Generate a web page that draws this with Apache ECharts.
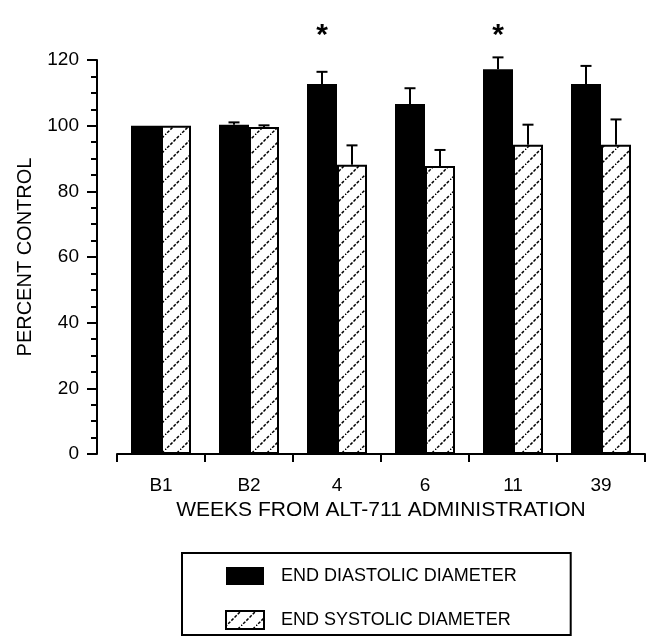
<!DOCTYPE html>
<html>
<head>
<meta charset="utf-8">
<script src="https://cdn.jsdelivr.net/npm/echarts@6/dist/echarts.min.js"></script>
<style>
html,body{margin:0;padding:0;background:#fff;}
#chart{width:647px;height:637px;}
</style>
</head>
<body>
<div id="chart"></div>
<script>
// ---- data ----
var categories = ['B1', 'B2', '4', '6', '11', '39'];
var diastolic = [100, 100.3, 112.7, 106.6, 117.2, 112.7];
var diastolicErrTop = [null, 101, 116.4, 111.4, 120.8, 118.2];
var systolic = [100, 99.6, 88.1, 87.7, 94.2, 94.2];
var systolicErrTop = [null, 100.1, 94.0, 92.6, 100.3, 101.9];
var significance = ['', '', '*', '', '*', ''];
var starLevel = 127.3;
var yTicks = [0, 20, 40, 60, 80, 100, 120];

var FONT = 'Liberation Sans, Arial, Helvetica, sans-serif';
var BAR_W = 30;

// hatch pattern
var pc = document.createElement('canvas');
pc.width = 15; pc.height = 15;
var ctx = pc.getContext('2d');
ctx.fillStyle = '#fff';
ctx.fillRect(0, 0, 15, 15);
ctx.strokeStyle = '#000';
ctx.lineWidth = 1.5;
ctx.setLineDash([3, 1.5]);
ctx.beginPath();
ctx.moveTo(-1, 16); ctx.lineTo(16, -1);
ctx.stroke();
var hatch = { image: pc, repeat: 'repeat' };

function errData(vals, tops) {
  return vals.map(function (v, i) { return [i, v, tops[i] == null ? v : tops[i], significance[i] ? 1 : 0]; });
}

function makeErrRender(offset, withStars) {
  return function (params, api) {
    var i = api.value(0);
    var cx = api.coord([i, 0])[0] + offset;
    var yTop = api.coord([i, api.value(1)])[1];
    var yErr = api.coord([i, api.value(2)])[1];
    var children = [];
    if (yErr < yTop - 0.5) {
      children.push({ type: 'line', shape: { x1: cx, y1: yTop, x2: cx, y2: yErr }, style: { stroke: '#000', lineWidth: 2 } });
      children.push({ type: 'line', shape: { x1: cx - 5.5, y1: yErr, x2: cx + 5.5, y2: yErr }, style: { stroke: '#000', lineWidth: 2 } });
    }
    if (withStars && api.value(3)) {
      var ys = api.coord([i, starLevel])[1];
      children.push({ type: 'text', x: cx, y: ys, style: { text: '*', font: 'bold 30px ' + FONT, fill: '#000', align: 'center', verticalAlign: 'middle' } });
    }
    return { type: 'group', children: children };
  };
}

var chart = echarts.init(document.getElementById('chart'), null, { renderer: 'canvas' });
chart.setOption({
  backgroundColor: '#fff',
  animation: false,
  textStyle: { fontFamily: FONT, color: '#000' },
  grid: { left: 117, right: 2, top: 60, bottom: 183 },
  legend: {
    orient: 'vertical',
    left: 182, top: 553,
    padding: [14, 54, 5, 43],
    borderColor: '#000', borderWidth: 2,
    itemWidth: 38, itemHeight: 18, itemGap: 25,
    icon: 'rect',
    textStyle: { fontFamily: FONT, fontSize: 18, color: '#000', padding: [0, 0, 0, 12] },
    data: ['END DIASTOLIC DIAMETER', 'END SYSTOLIC DIAMETER']
  },
  xAxis: {
    type: 'category',
    data: categories,
    boundaryGap: true,
    name: 'WEEKS FROM ALT-711 ADMINISTRATION',
    nameLocation: 'middle',
    nameGap: 45,
    nameTextStyle: { fontFamily: FONT, fontSize: 21, color: '#000' },
    axisLine: { lineStyle: { color: '#000', width: 2 } },
    axisTick: { show: true, length: 8, lineStyle: { color: '#000', width: 2 } },
    axisLabel: { fontFamily: FONT, fontSize: 19, color: '#000', margin: 22 },
    splitLine: { show: false }
  },
  yAxis: {
    type: 'value',
    min: yTicks[0], max: yTicks[yTicks.length - 1], interval: 20,
    offset: 20,
    name: 'PERCENT CONTROL',
    nameLocation: 'middle',
    nameGap: 62,
    nameTextStyle: { fontFamily: FONT, fontSize: 20, color: '#000' },
    axisLine: { show: true, lineStyle: { color: '#000', width: 2 } },
    axisTick: { show: true, length: 10, lineStyle: { color: '#000', width: 2 } },
    minorTick: { show: true, splitNumber: 4, length: 6, lineStyle: { color: '#000', width: 2 } },
    axisLabel: { fontFamily: FONT, fontSize: 19, color: '#000', margin: 18 },
    splitLine: { show: false }
  },
  series: [
    {
      name: 'END DIASTOLIC DIAMETER',
      type: 'bar',
      data: diastolic,
      barWidth: BAR_W,
      barGap: 0,
      itemStyle: { color: '#000' }
    },
    {
      name: 'END SYSTOLIC DIAMETER',
      type: 'bar',
      data: systolic,
      barWidth: BAR_W,
      barGap: 0,
      itemStyle: { color: hatch, borderColor: '#000', borderWidth: 2 }
    },
    {
      type: 'custom',
      data: errData(diastolic, diastolicErrTop),
      renderItem: makeErrRender(-BAR_W / 2, true),
      z: 5,
      clip: false
    },
    {
      type: 'custom',
      data: errData(systolic, systolicErrTop),
      renderItem: makeErrRender(BAR_W / 2, false),
      z: 5,
      clip: false
    }
  ]
});
</script>
</body>
</html>
